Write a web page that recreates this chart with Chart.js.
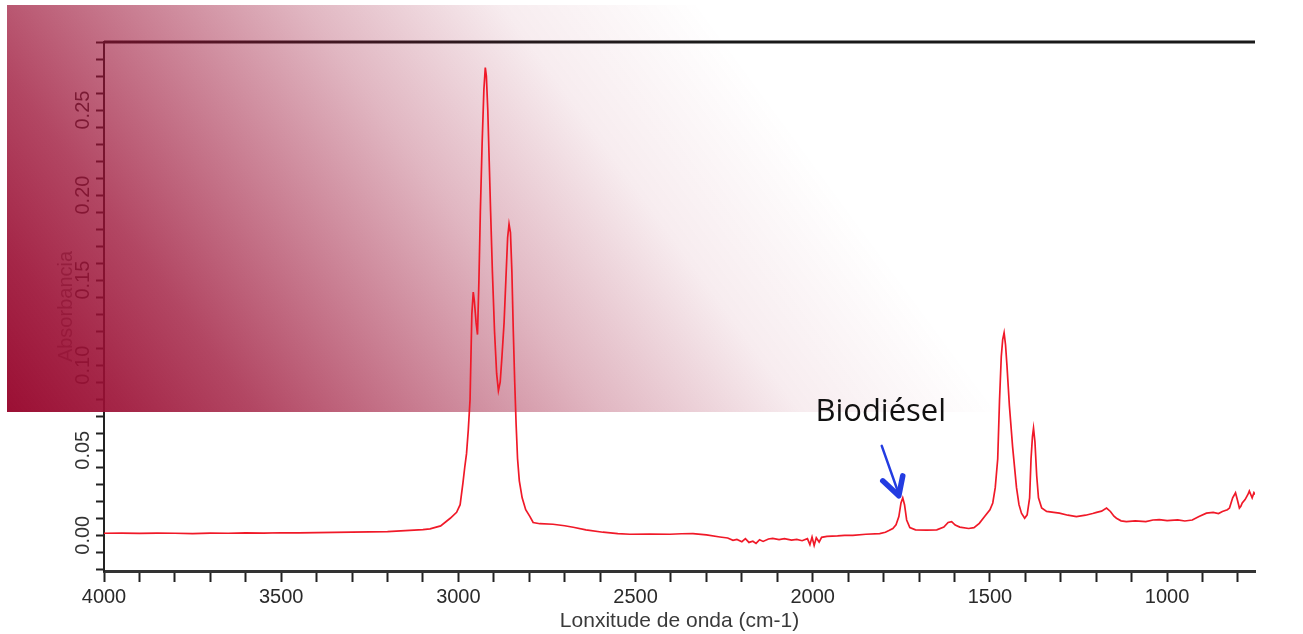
<!DOCTYPE html>
<html>
<head>
<meta charset="utf-8">
<script src="https://cdn.jsdelivr.net/npm/chart.js@4.4.0/dist/chart.umd.min.js"></script>
<style>
  html, body { margin: 0; padding: 0; background: #fff; }
  #wrap { width: 1303px; height: 634px; position: relative; }
</style>
</head>
<body>
<div id="wrap"><canvas id="spectrum"></canvas></div>
<script>
// IR spectrum (cm-1 / absorbance)
const wavenumbers = [
  4000, 3950, 3900, 3850, 3800, 3750, 3700, 3650, 3600, 3550, 3500, 3450, 3400, 3350, 3300, 3250, 3200, 3150, 3100, 3080,
  3050, 3023, 3005, 2995, 2987, 2982, 2977, 2972, 2967, 2962, 2958, 2955, 2950, 2946, 2942, 2938, 2933, 2928, 2924, 2921,
  2917, 2913, 2909, 2904, 2898, 2892, 2887, 2882, 2877, 2871, 2866, 2861, 2857, 2853, 2849, 2845, 2841, 2837, 2833, 2828,
  2820, 2810, 2798, 2789, 2770, 2733, 2700, 2676, 2640, 2592, 2550, 2516, 2460, 2403, 2370, 2338, 2300, 2262, 2240, 2225,
  2214, 2200, 2190, 2180, 2169, 2160, 2150, 2140, 2125, 2113, 2095, 2080, 2060, 2045, 2030, 2015, 2008, 2002, 1996, 1990,
  1982, 1975, 1960, 1930, 1910, 1887, 1850, 1811, 1795, 1785, 1774, 1765, 1757, 1751, 1746, 1741, 1735, 1726, 1710, 1679,
  1650, 1630, 1618, 1608, 1598, 1585, 1560, 1545, 1530, 1515, 1500, 1492, 1485, 1478, 1473, 1468, 1464, 1460, 1456, 1452,
  1445, 1436, 1425, 1418, 1411, 1402, 1395, 1388, 1384, 1380, 1377, 1373, 1368, 1363, 1354, 1340, 1320, 1304, 1280, 1256,
  1230, 1210, 1199, 1185, 1171, 1160, 1150, 1143, 1130, 1115, 1090, 1060, 1040, 1022, 1000, 970, 950, 929, 910, 889,
  870, 855, 844, 830, 824, 815, 807, 802, 796, 792, 788, 780, 772, 768, 764, 760, 755, 752
];
const absorbance = [
  0.0012, 0.0013, 0.0011, 0.0013, 0.0012, 0.0010, 0.0013, 0.0012, 0.0014, 0.0013, 0.0015, 0.0014, 0.0016, 0.0017, 0.0018, 0.0020, 0.0022, 0.0027, 0.0033, 0.0038,
  0.0055, 0.0100, 0.0135, 0.0180, 0.0310, 0.0400, 0.0480, 0.0620, 0.0800, 0.1300, 0.1430, 0.1380, 0.1250, 0.1180, 0.1500, 0.1900, 0.2300, 0.2620, 0.2750, 0.2700,
  0.2500, 0.2200, 0.1900, 0.1550, 0.1200, 0.0950, 0.0850, 0.0900, 0.1050, 0.1250, 0.1500, 0.1750, 0.1830, 0.1780, 0.1550, 0.1200, 0.0900, 0.0650, 0.0450, 0.0320,
  0.0220, 0.0150, 0.0110, 0.0075, 0.0068, 0.0065, 0.0056, 0.0047, 0.0032, 0.0018, 0.0010, 0.0006, 0.0007, 0.0006, 0.0009, 0.0010, 0.0002, -0.0010, -0.0016, -0.0030,
  -0.0024, -0.0038, -0.0020, -0.0042, -0.0035, -0.0048, -0.0026, -0.0036, -0.0022, -0.0018, -0.0025, -0.0020, -0.0028, -0.0024, -0.0032, -0.0020, -0.0055, -0.0010, -0.0060, -0.0015,
  -0.0040, -0.0012, -0.0006, -0.0004, 0.0000, 0.0000, 0.0006, 0.0010, 0.0018, 0.0028, 0.0040, 0.0062, 0.0110, 0.0190, 0.0220, 0.0180, 0.0090, 0.0045, 0.0032, 0.0030,
  0.0032, 0.0048, 0.0075, 0.0080, 0.0060, 0.0048, 0.0040, 0.0045, 0.0070, 0.0110, 0.0150, 0.0190, 0.0280, 0.0450, 0.0790, 0.1050, 0.1150, 0.1190, 0.1120, 0.1000,
  0.0760, 0.0520, 0.0280, 0.0180, 0.0130, 0.0100, 0.0120, 0.0220, 0.0450, 0.0580, 0.0630, 0.0550, 0.0350, 0.0220, 0.0160, 0.0140, 0.0135, 0.0130, 0.0118, 0.0110,
  0.0118, 0.0128, 0.0135, 0.0142, 0.0160, 0.0140, 0.0112, 0.0100, 0.0085, 0.0080, 0.0085, 0.0080, 0.0090, 0.0092, 0.0086, 0.0090, 0.0084, 0.0090, 0.0110, 0.0130,
  0.0135, 0.0128, 0.0140, 0.0150, 0.0160, 0.0220, 0.0250, 0.0210, 0.0160, 0.0170, 0.0190, 0.0210, 0.0240, 0.0260, 0.0240, 0.0220, 0.0250, 0.0240
];
const xTickLabels = [4000, 3500, 3000, 2500, 2000, 1500, 1000];
const yTickLabels = ['0.00', '0.05', '0.10', '0.15', '0.20', '0.25'];
const peakLabel = 'Biodiésel';
const peakWavenumber = 1746;

const axisFont = '"Liberation Sans", Arial, sans-serif';

const decorations = {
  id: 'decorations',
  beforeDatasetsDraw(chart) {
    const { ctx, chartArea, scales: { y } } = chart;
    ctx.save();

    // top frame line
    ctx.strokeStyle = '#1a1a1a';
    ctx.lineWidth = 3;
    ctx.beginPath();
    ctx.moveTo(chartArea.left, chartArea.top);
    ctx.lineTo(chartArea.right, chartArea.top);
    ctx.stroke();

    // y labels are written sideways
    ctx.fillStyle = '#333';
    ctx.font = '20px ' + axisFont;
    ctx.textAlign = 'center';
    ctx.textBaseline = 'middle';
    yTickLabels.forEach((label) => {
      const py = y.getPixelForValue(parseFloat(label));
      ctx.save();
      ctx.translate(83, py);
      ctx.rotate(-Math.PI / 2);
      ctx.fillText(label, 0, 0);
      ctx.restore();
    });

    // crimson wash over the upper left, long soft tail to the right
    const g = ctx.createLinearGradient(7, 412, 651, -62);
    g.addColorStop(0, 'rgba(155,15,52,1)');
    g.addColorStop(0.12, 'rgba(155,15,52,0.9)');
    g.addColorStop(0.25, 'rgba(155,15,52,0.77)');
    g.addColorStop(0.4, 'rgba(155,15,52,0.57)');
    g.addColorStop(0.6, 'rgba(155,15,52,0.3)');
    g.addColorStop(0.8, 'rgba(155,15,52,0.08)');
    g.addColorStop(1, 'rgba(155,15,52,0)');
    ctx.fillStyle = g;
    ctx.fillRect(7, 5, 1296, 407);
    ctx.restore();
  },
  afterDatasetsDraw(chart) {
    const { ctx, scales: { x, y } } = chart;
    const i = wavenumbers.indexOf(peakWavenumber);
    const px = x.getPixelForValue(peakWavenumber);
    const py = y.getPixelForValue(absorbance[i]);
    ctx.save();

    ctx.fillStyle = '#111';
    ctx.font = '31px "Open Sans", sans-serif';
    ctx.textAlign = 'center';
    ctx.textBaseline = 'middle';
    ctx.fillText(peakLabel, px - 22, py - 86);

    // arrow pointing at the ester peak
    ctx.strokeStyle = 'rgb(35,60,225)';
    ctx.lineCap = 'round';
    ctx.lineJoin = 'round';
    ctx.lineWidth = 2.5;
    ctx.beginPath();
    ctx.moveTo(px - 21, py - 52);
    ctx.lineTo(px - 4, py - 4);
    ctx.stroke();
    ctx.lineWidth = 5.5;
    ctx.beginPath();
    ctx.moveTo(px - 20, py - 17);
    ctx.lineTo(px - 4, py - 2);
    ctx.lineTo(px, py - 22);
    ctx.stroke();
    ctx.restore();
  }
};

const ctx = document.getElementById('spectrum').getContext('2d');
new Chart(ctx, {
  type: 'line',
  data: {
    datasets: [{
      label: 'Biodiésel',
      data: wavenumbers.map((w, i) => ({ x: w, y: absorbance[i] })),
      borderColor: 'rgb(240,25,40)',
      borderWidth: 1.7,
      pointRadius: 0,
      tension: 0,
      fill: false
    }]
  },
  options: {
    responsive: true,
    maintainAspectRatio: false,
    animation: false,
    layout: { padding: { top: 42, right: 48, left: 0, bottom: 0 } },
    plugins: {
      legend: { display: false },
      tooltip: { enabled: false }
    },
    scales: {
      x: {
        type: 'linear',
        reverse: true,
        min: 752,
        max: 4000,
        afterFit: (scale) => { scale.height = 63; },
        border: { display: true, color: '#333', width: 3 },
        grid: {
          drawOnChartArea: false,
          drawTicks: true,
          tickLength: 11,
          tickWidth: 2,
          tickColor: '#222'
        },
        ticks: {
          stepSize: 100,
          includeBounds: false,
          autoSkip: false,
          maxRotation: 0,
          padding: 3,
          color: '#2a2a2a',
          font: { family: axisFont, size: 20 },
          callback: (value) => (xTickLabels.includes(value) ? String(value) : '')
        },
        title: {
          display: true,
          text: 'Lonxitude de onda (cm-1)',
          color: '#3a3a3a',
          font: { family: axisFont, size: 21 },
          padding: { top: 0, bottom: 0 }
        }
      },
      y: {
        min: -0.021,
        max: 0.29,
        afterFit: (scale) => { scale.width = 104; },
        border: { display: true, color: '#222', width: 2 },
        grid: {
          drawOnChartArea: false,
          drawTicks: true,
          tickLength: 8,
          tickWidth: 2,
          tickColor: '#222'
        },
        ticks: {
          stepSize: 0.01,
          includeBounds: false,
          display: false
        },
        title: {
          display: true,
          text: 'Absorbancia',
          color: '#777',
          font: { family: axisFont, size: 20 },
          padding: { top: 54, bottom: 0 }
        }
      }
    }
  },
  plugins: [decorations]
});
</script>
</body>
</html>
